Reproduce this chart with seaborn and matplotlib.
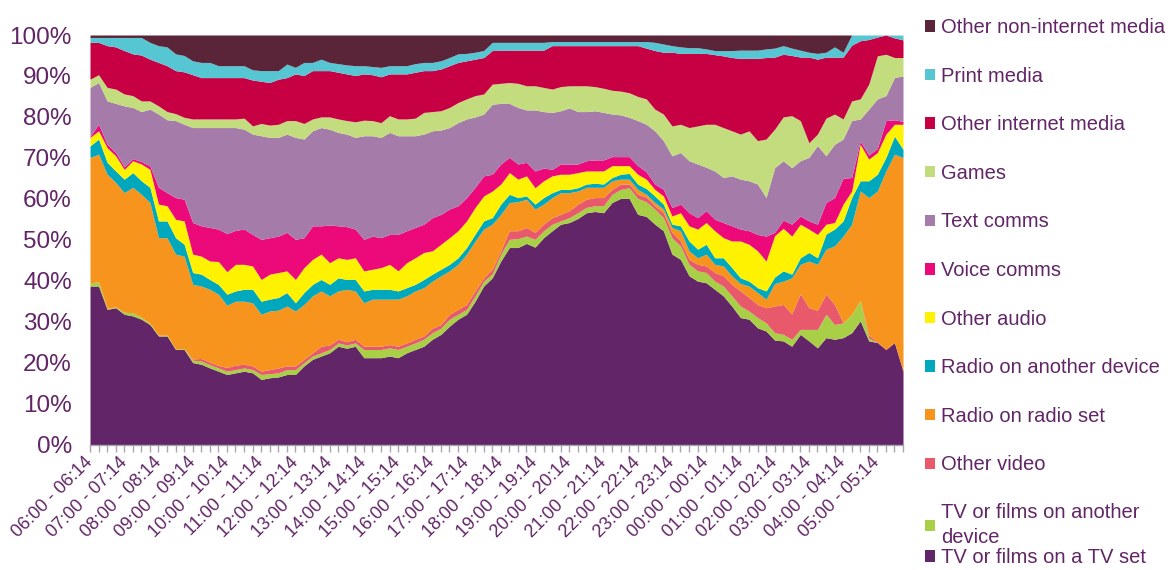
import numpy as np
import matplotlib
matplotlib.use("Agg")
import matplotlib.pyplot as plt
from matplotlib.patches import Patch
from matplotlib.ticker import FuncFormatter
import seaborn as sns

# ---------------- data ----------------
hour_labels = ["06:00 - 06:14", "07:00 - 07:14", "08:00 - 08:14", "09:00 - 09:14",
               "10:00 - 10:14", "11:00 - 11:14", "12:00 - 12:14", "13:00 - 13:14",
               "14:00 - 14:14", "15:00 - 15:14", "16:00 - 16:14", "17:00 - 17:14",
               "18:00 - 18:14", "19:00 - 19:14", "20:00 - 20:14", "21:00 - 21:14",
               "22:00 - 22:14", "23:00 - 23:14", "00:00 - 00:14", "01:00 - 01:14",
               "02:00 - 02:14", "03:00 - 03:14", "04:00 - 04:14", "05:00 - 05:14"]

series_names = ["TV or films on a TV set", "TV or films on another device", "Other video",
                "Radio on radio set", "Radio on another device", "Other audio",
                "Voice comms", "Text comms", "Games", "Other internet media",
                "Print media", "Other non-internet media"]

series_colors = ["#622567", "#A8CF45", "#E8596B", "#F7941E", "#00A8BD", "#FFF200",
                 "#EC0A7B", "#A57BAA", "#C2DC7E", "#C70044", "#57C6D3", "#5B2539"]

# upper edge (cumulative %) of each band, one value per 15-minute slot (96 slots)
top_tv_set = [38.7, 38.7, 33.0, 33.4, 31.8, 31.4, 30.6, 29.3, 26.5, 26.5, 23.2, 23.2, 20.0, 19.6, 18.7, 17.9, 17.1,
              17.5, 17.9, 17.5, 15.9, 16.3, 16.5, 17.1, 17.1, 19.2, 20.8, 21.6, 22.4, 24.0, 23.5, 24.0,
              21.2, 21.2, 21.2, 21.6, 21.2, 22.4, 23.2, 24.0, 25.7, 26.9, 28.9, 30.6, 31.8, 35.0, 38.7, 40.7, 44.8, 48.1,
              48.1, 49.1, 48.2, 50.5, 52.2, 53.8, 54.2, 55.2, 56.6, 56.9, 56.6, 59.1, 60.1, 60.1, 56.2, 55.7,
              53.8, 52.2, 46.5, 45.2, 41.2, 39.9, 39.5, 37.9, 36.3, 33.8, 31.0, 30.6, 28.5, 27.7, 25.5, 25.3,
              24.0, 26.9, 25.3, 23.6, 26.1, 25.7, 26.1, 27.3, 30.2, 25.3, 24.9, 23.2, 24.9, 17.9]
top_tv_other = [39.5, 39.7, 33.2, 33.6, 32.3, 32.2, 31.1, 29.6, 26.7, 26.7, 23.4, 23.4, 20.6, 20.4, 19.5, 18.7, 17.9,
                18.3, 18.7, 18.3, 17.1, 17.3, 17.5, 18.3, 18.3, 20.0, 21.6, 22.4, 23.2, 24.8, 24.3, 24.8,
                23.2, 23.2, 23.2, 23.6, 23.2, 24.0, 24.8, 25.7, 27.3, 28.4, 30.6, 31.8, 33.0, 36.3, 39.9, 41.7, 46.5, 50.1,
                50.3, 50.9, 50.1, 52.2, 53.8, 54.6, 55.4, 56.6, 57.9, 58.3, 58.3, 61.1, 62.3, 62.7, 60.1, 59.3,
                57.5, 55.4, 50.5, 48.5, 44.0, 42.4, 42.0, 39.9, 38.7, 36.3, 33.8, 32.6, 31.0, 29.7, 27.3, 26.9,
                25.7, 28.1, 28.1, 28.1, 31.8, 29.3, 29.7, 31.8, 35.2, 26.0, 24.9, 23.2, 24.9, 17.9]
top_other_video = [39.5, 39.7, 33.2, 33.6, 32.3, 32.2, 31.1, 29.6, 26.7, 26.7, 23.4, 23.4, 20.9, 21.0, 20.1, 19.3, 18.8,
                   19.4, 19.6, 19.2, 17.9, 18.3, 18.7, 19.2, 19.2, 20.8, 22.4, 24.0, 24.3, 25.7, 25.1, 25.7,
                   24.0, 24.0, 24.0, 24.4, 24.0, 24.8, 25.7, 26.5, 28.4, 29.3, 31.8, 33.0, 34.2, 37.5, 40.7, 42.8, 47.3, 52.2,
                   52.2, 53.0, 51.8, 53.8, 55.4, 56.2, 57.1, 58.7, 59.9, 60.3, 60.3, 62.3, 63.6, 63.6, 61.1, 60.4,
                   58.3, 56.6, 51.8, 49.7, 45.2, 44.0, 43.6, 42.0, 41.2, 39.1, 37.5, 35.9, 34.2, 33.4, 33.8, 34.2,
                   31.9, 36.8, 33.4, 32.8, 36.7, 34.2, 29.7, 31.8, 35.2, 26.7, 25.0, 23.2, 24.9, 17.9]
top_radio_set = [70.1, 70.9, 66.0, 64.0, 61.5, 62.8, 61.1, 59.1, 50.5, 50.5, 46.5, 46.0, 39.1, 38.7, 37.9, 36.7, 34.0,
                 35.0, 35.0, 34.6, 31.8, 32.6, 32.8, 33.8, 32.6, 34.2, 36.3, 37.5, 36.3, 37.5, 37.9, 37.5,
                 34.6, 35.5, 35.5, 35.5, 35.5, 36.3, 37.5, 38.3, 39.9, 41.2, 42.4, 44.0, 46.5, 49.7, 52.6, 53.8, 56.2, 59.1,
                 59.3, 59.9, 57.5, 58.7, 60.3, 61.5, 61.5, 61.9, 62.8, 62.8, 62.8, 64.4, 64.8, 64.8, 62.3, 61.1,
                 59.1, 57.5, 53.0, 52.2, 47.3, 45.6, 46.5, 44.0, 43.6, 41.2, 39.3, 38.7, 37.1, 35.5, 39.3, 39.9,
                 40.7, 44.0, 44.8, 44.0, 47.7, 48.5, 50.9, 53.8, 61.9, 60.3, 61.9, 66.8, 70.9, 70.1]
top_radio_other = [72.9, 74.6, 68.9, 66.8, 64.8, 66.4, 64.4, 62.8, 54.6, 54.6, 50.5, 48.9, 42.0, 41.6, 40.3, 39.1, 36.7,
                   37.5, 37.9, 37.9, 35.0, 35.5, 35.9, 37.1, 34.6, 37.1, 39.1, 40.3, 39.1, 40.7, 40.3, 40.3,
                   37.5, 37.9, 37.9, 37.9, 37.5, 38.3, 39.1, 40.3, 41.6, 42.8, 44.0, 45.6, 48.1, 51.4, 54.6, 55.4, 58.7, 61.1,
                   60.3, 60.7, 58.7, 60.3, 61.5, 62.3, 62.3, 62.7, 63.6, 63.8, 63.6, 65.2, 66.0, 66.2, 63.6, 62.5,
                   60.7, 58.7, 53.8, 53.4, 49.7, 47.7, 48.9, 45.6, 45.6, 43.2, 40.7, 39.9, 38.3, 37.5, 40.9, 42.4,
                   41.6, 45.6, 46.9, 45.6, 51.4, 52.6, 54.6, 60.3, 64.4, 64.4, 66.0, 70.1, 75.3, 72.1]
top_other_audio = [75.0, 76.6, 72.5, 70.5, 67.2, 69.3, 68.5, 67.2, 58.7, 58.3, 55.0, 54.6, 46.5, 46.0, 44.8, 44.7, 42.2,
                   44.0, 44.0, 43.6, 40.3, 41.6, 42.0, 42.4, 40.3, 43.2, 45.2, 46.5, 44.4, 45.6, 45.2, 45.6,
                   42.4, 42.8, 43.2, 44.0, 42.4, 44.4, 45.6, 46.9, 47.3, 48.9, 50.5, 52.2, 54.6, 57.9, 60.7, 61.9, 63.6, 66.4,
                   64.8, 65.6, 62.7, 64.4, 65.6, 66.0, 66.0, 66.4, 66.8, 66.8, 66.8, 68.1, 68.1, 68.1, 66.0, 64.8,
                   62.3, 60.7, 55.8, 56.6, 53.4, 52.6, 54.2, 52.2, 50.5, 49.7, 49.7, 48.9, 47.3, 44.8, 51.0, 52.8,
                   50.9, 53.8, 52.6, 51.3, 53.8, 54.2, 58.7, 61.9, 73.3, 69.7, 71.3, 75.8, 78.2, 78.2]
top_voice = [75.2, 78.2, 73.3, 71.3, 67.8, 69.8, 69.1, 68.0, 62.8, 61.5, 60.3, 59.9, 54.2, 53.4, 53.0, 52.6, 51.5,
             52.3, 52.6, 51.3, 50.1, 50.5, 50.9, 51.8, 50.1, 50.5, 53.4, 53.4, 53.6, 53.4, 53.2, 52.6,
             50.1, 50.9, 50.5, 51.3, 51.3, 52.2, 53.0, 53.8, 55.4, 56.2, 57.5, 58.3, 60.3, 62.8, 65.6, 66.0, 68.5, 70.1,
             68.5, 68.9, 66.8, 67.5, 67.2, 68.5, 68.5, 68.5, 69.3, 69.5, 69.5, 70.3, 70.3, 70.3, 68.1, 66.6,
             63.6, 62.3, 57.9, 58.7, 56.6, 55.4, 57.1, 55.0, 54.2, 53.4, 52.6, 52.2, 51.3, 50.9, 51.8, 54.8,
             53.8, 55.8, 54.6, 53.8, 59.1, 60.3, 65.0, 65.2, 74.1, 70.7, 72.3, 79.1, 79.3, 78.9]
top_text = [87.2, 88.4, 83.9, 83.3, 82.7, 82.3, 81.3, 81.9, 80.7, 79.3, 79.1, 78.2, 77.4, 77.4, 77.4, 77.4, 77.4,
            77.4, 77.0, 75.8, 75.4, 75.0, 75.0, 75.8, 75.0, 74.6, 76.6, 77.4, 77.0, 76.2, 75.8, 75.0,
            75.4, 75.4, 75.0, 76.2, 75.4, 75.4, 75.4, 75.8, 76.6, 76.8, 77.4, 78.6, 79.5, 80.0, 80.7, 83.1, 83.3, 83.3,
            82.3, 81.7, 81.7, 81.3, 81.1, 81.5, 82.2, 81.3, 81.3, 81.5, 81.1, 80.7, 80.5, 79.9, 79.1, 78.2,
            76.6, 74.2, 70.5, 71.3, 69.3, 68.5, 67.7, 66.8, 65.2, 65.6, 64.8, 64.4, 63.6, 60.3, 67.6, 69.3,
            67.6, 69.3, 70.1, 73.0, 70.5, 73.3, 74.6, 79.1, 79.5, 81.9, 84.4, 85.2, 89.6, 90.0]
top_games = [89.2, 90.3, 87.2, 86.8, 85.6, 85.2, 83.9, 83.9, 82.7, 81.3, 80.8, 79.9, 79.5, 79.5, 79.5, 79.5, 79.5,
             79.5, 79.7, 77.8, 78.4, 78.0, 78.2, 79.1, 79.1, 78.4, 79.5, 80.0, 80.0, 79.5, 79.1, 78.8,
             79.2, 79.1, 78.6, 80.3, 79.5, 79.5, 79.7, 81.1, 81.3, 81.5, 82.3, 83.5, 84.4, 85.2, 85.6, 88.0, 88.2, 88.4,
             88.2, 87.6, 87.6, 87.2, 86.8, 87.4, 87.6, 87.6, 87.6, 87.4, 87.0, 86.5, 86.3, 85.9, 85.0, 84.4,
             81.9, 80.7, 77.8, 78.2, 77.4, 77.8, 78.2, 78.2, 77.4, 76.6, 75.8, 76.6, 74.2, 74.6, 77.0, 80.0,
             80.3, 79.1, 73.7, 75.8, 79.7, 80.7, 79.5, 83.9, 84.4, 88.0, 94.9, 95.3, 94.5, 94.5]
top_internet = [98.2, 98.2, 97.4, 97.1, 96.2, 95.4, 95.1, 94.1, 93.3, 92.5, 91.3, 91.0, 90.3, 89.6, 89.6, 89.6, 89.6,
                89.6, 89.6, 89.0, 88.7, 88.4, 89.2, 89.6, 90.5, 90.1, 91.3, 91.3, 91.3, 90.9, 90.5, 90.1,
                90.5, 90.3, 89.8, 90.5, 90.5, 90.5, 90.9, 91.3, 91.3, 91.7, 92.5, 93.3, 93.7, 94.1, 94.5, 96.2, 96.3, 96.3,
                96.3, 96.3, 96.3, 96.3, 97.4, 97.4, 97.4, 97.4, 97.4, 97.4, 97.4, 97.4, 97.4, 97.4, 97.4, 96.8,
                96.2, 95.8, 95.8, 95.5, 95.5, 95.5, 95.5, 95.2, 94.9, 94.5, 94.3, 94.3, 94.3, 94.5, 94.6, 95.3,
                95.0, 94.6, 94.6, 94.1, 94.6, 94.6, 94.6, 97.5, 98.6, 98.9, 99.5, 100.0, 99.3, 98.8]
top_print = [99.4, 99.4, 99.4, 99.4, 99.4, 99.4, 99.4, 98.2, 97.4, 97.1, 95.4, 95.0, 93.7, 93.3, 93.3, 92.5, 92.5,
             92.5, 92.5, 91.5, 91.3, 91.3, 91.3, 92.9, 92.1, 93.3, 93.3, 94.1, 93.3, 93.0, 92.7, 92.5,
             92.5, 92.3, 92.1, 92.5, 92.5, 92.5, 93.0, 93.3, 93.3, 93.7, 94.5, 95.4, 95.5, 95.8, 96.2, 98.2, 98.2, 98.2,
             98.2, 98.2, 98.2, 98.2, 98.4, 98.4, 98.4, 98.4, 98.4, 98.4, 98.4, 98.4, 98.4, 98.4, 98.4, 98.4,
             98.2, 97.8, 97.4, 97.1, 96.9, 96.9, 96.6, 96.2, 96.2, 96.2, 96.3, 96.3, 96.3, 96.6, 96.8, 97.4,
             96.8, 96.3, 95.8, 95.5, 95.8, 97.1, 95.8, 100.0, 100.0, 100.0, 100.0, 100.0, 100.0, 100.0]
total = 100.0  # every slot sums to 100 %

# ---------------- style ----------------
sns.set_theme(style="white")
plt.rcParams["font.family"] = ["Liberation Sans", "DejaVu Sans"]
text_color = "#622567"
axis_grey = "#A9A4AE"

n_slots = len(top_tv_set)
x = np.arange(n_slots)
tops = np.array([top_tv_set, top_tv_other, top_other_video, top_radio_set, top_radio_other,
                 top_other_audio, top_voice, top_text, top_games, top_internet, top_print,
                 np.full(n_slots, total)])
shares = np.clip(np.diff(np.vstack([np.zeros(n_slots), tops]), axis=0), 0, None)

fig = plt.figure(figsize=(11.74, 5.70), dpi=100)
ax = fig.add_axes([90 / 1174, 1 - 444.5 / 570, 813 / 1174, 409.5 / 570])

palette = sns.color_palette(series_colors)
ax.stackplot(x, shares, colors=palette, linewidth=0, antialiased=True)

ax.set_xlim(0, n_slots - 1)
ax.set_ylim(0, 100)

ax.set_yticks(np.arange(0, 101, 10))
ax.yaxis.set_major_formatter(FuncFormatter(lambda v, p: f"{int(v)}%"))
ax.tick_params(axis="y", length=0, pad=13, labelsize=17.5, labelcolor=text_color, left=False)

ax.set_xticks(np.arange(0, n_slots, 4))
ax.set_xticklabels(hour_labels, rotation=45, ha="right", va="center", rotation_mode="anchor")
ax.set_xticks(np.arange(n_slots), minor=True)
ax.tick_params(axis="x", which="both", bottom=True, direction="out", length=5, width=1,
               color=axis_grey)
ax.tick_params(axis="x", which="major", labelsize=13, labelcolor=text_color, pad=6)

for s in ("left", "top", "right"):
    ax.spines[s].set_visible(False)
ax.spines["bottom"].set_color(axis_grey)
ax.spines["bottom"].set_linewidth(1)
ax.grid(False)

# ---------------- legend ----------------
handles = [Patch(facecolor=c, edgecolor="none") for c in palette]
labels = list(series_names)
labels[1] = "TV or films on another\ndevice"
order = list(range(len(labels)))[::-1]

common = dict(frameon=False, fontsize=14.5, handlelength=0.5, handleheight=0.5,
              handletextpad=0.3, borderpad=0, borderaxespad=0, labelcolor=text_color,
              loc="upper left", bbox_transform=fig.transFigure)
fig.legend([handles[i] for i in order[:10]], [labels[i] for i in order[:10]],
           bbox_to_anchor=(925 / 1174, 1 - 18 / 570), labelspacing=1.47, **common)
leg2 = fig.legend([handles[i] for i in order[10:]], [labels[i] for i in order[10:]],
                  bbox_to_anchor=(925 / 1174, 1 - 503 / 570), labelspacing=0.05, **common)
leg2.get_texts()[0].set_linespacing(1.4)

fig.savefig("out.png", dpi=100)
